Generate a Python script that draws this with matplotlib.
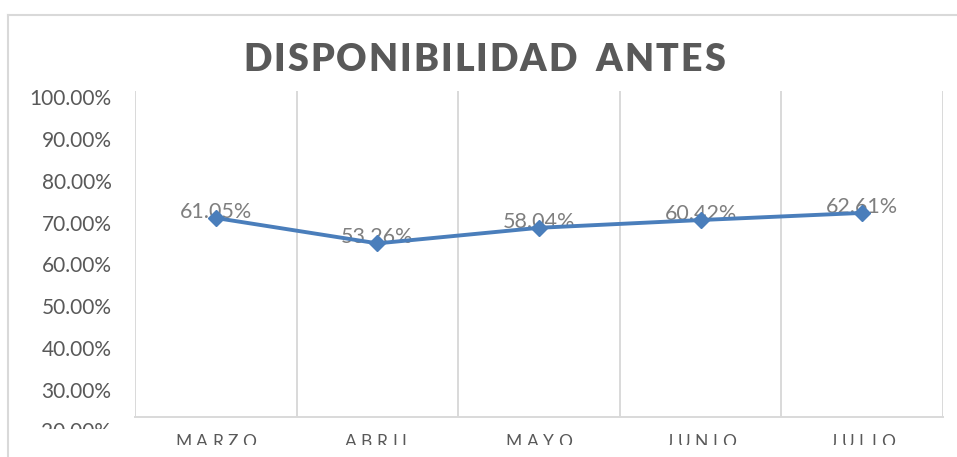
import matplotlib
matplotlib.use('Agg')
import matplotlib.pyplot as plt
import matplotlib.ticker as mtick
from matplotlib.font_manager import FontProperties
from matplotlib.transforms import Bbox
import numpy as np

W, H = 957, 457

TITLE = 'DISPONIBILIDAD ANTES'
MONTHS = ['MARZO', 'ABRIL', 'MAYO', 'JUNIO', 'JULIO']
AVAILABILITY = [0.6105, 0.5326, 0.5804, 0.6042, 0.6261]
# tick labels of the (shifted) value axis as it shows in the original sheet
LABEL_TICKS = [0.2, 0.3, 0.4, 0.5, 0.6, 0.7, 0.8, 0.9, 1.0]

TEXT_DARK = '#595959'
TEXT_LIGHT = '#7f7f7f'
GRID = '#d9d9d9'
LINE = '#4a7ebb'


def spaced_text(fig, x, y, s, gap, fp, color, space=10, clip=None):
    """Draw s centred on pixel x (baseline at pixel row y) with extra letter spacing."""
    renderer = fig.canvas.get_renderer()
    widths = []
    for ch in s:
        if ch == ' ':
            widths.append(space)
        else:
            w, _, _ = renderer.get_text_width_height_descent(ch, fp, ismath=False)
            widths.append(w)
    total = sum(widths) + gap * (len(s) - 1)
    cx = x - total / 2
    for ch, w in zip(s, widths):
        if ch != ' ':
            t = fig.text(cx / W, 1 - y / H, ch, fontproperties=fp, color=color,
                         ha='left', va='baseline')
            if clip is not None:
                t.set_clip_box(clip)
                t.set_clip_on(True)
        cx += w + gap


fig = plt.figure(figsize=(W / 100, H / 100), dpi=100)
fig.patch.set_facecolor('white')

# chart area border (cropped at right and bottom)
fig.add_artist(plt.Line2D([8 / W, 1], [1 - 15 / H] * 2, color=GRID, lw=1.5))
fig.add_artist(plt.Line2D([8 / W] * 2, [0, 1 - 15 / H], color=GRID, lw=1.5))

ax = fig.add_axes([135 / W, 40 / H, 808 / W, 326 / H])
x = np.arange(len(MONTHS))
ax.plot(x, AVAILABILITY, color=LINE, lw=2.8, marker='D', ms=8, zorder=3)
ax.set_xlim(-0.5, len(MONTHS) - 0.5)
ax.set_ylim(0, 1)
ax.set_xticks(np.arange(-0.5, len(MONTHS), 1.0))
ax.set_xticklabels([])
ax.set_yticks([])
ax.tick_params(length=0)
ax.grid(axis='x', color=GRID, lw=1.4)
for side in ['top', 'right', 'left']:
    ax.spines[side].set_visible(False)
ax.spines['bottom'].set_color(GRID)
ax.spines['bottom'].set_linewidth(1.4)

label_fp = FontProperties(family='Lato', size=15.5)
for xi, v in zip(x, AVAILABILITY):
    ax.annotate(f'{v:.2%}', (xi, v), xytext=(0, 0), textcoords='offset points',
                ha='center', va='baseline', fontproperties=label_fp, color=TEXT_LIGHT,
                zorder=2)

# value-axis labels, drawn on their own scale as in the source image
ax2 = ax.twinx()
ax2.yaxis.tick_left()
ax2.set_ylim(0.236, 1.014)
ax2.set_yticks([t for t in LABEL_TICKS if t >= 0.25])
ax2.yaxis.set_major_formatter(mtick.PercentFormatter(xmax=1.0, decimals=2))
ax2.tick_params(length=0, pad=17, labelsize=15, labelcolor=TEXT_DARK)
for lab in ax2.get_yticklabels():
    lab.set_family('Lato')
for side in ax2.spines:
    ax2.spines[side].set_visible(False)

# the lowest label is half hidden under the category labels
y20 = ax2.transData.transform((0, LABEL_TICKS[0]))[1]
t20 = fig.text(111 / W, y20 / H, f'{LABEL_TICKS[0]:.2%}', ha='right', va='center',
               family='Lato', size=15, color=TEXT_DARK)
t20.set_clip_box(Bbox([[0, H - 429], [W, H]]))
t20.set_clip_on(True)

# category labels
cat_fp = FontProperties(family='Lato', size=12.5)
cat_clip = Bbox([[0, H - 445], [W, H]])
for xi, name in zip(x, MONTHS):
    px = ax.transData.transform((xi, 0))[0]
    spaced_text(fig, px, 447, name, 4.5, cat_fp, TEXT_DARK, clip=cat_clip)

# title
title_fp = FontProperties(family='Lato', size=27, weight='heavy')
spaced_text(fig, 484, 71, TITLE, 2, title_fp, TEXT_DARK, space=15)

fig.savefig('out.png', dpi=100)
